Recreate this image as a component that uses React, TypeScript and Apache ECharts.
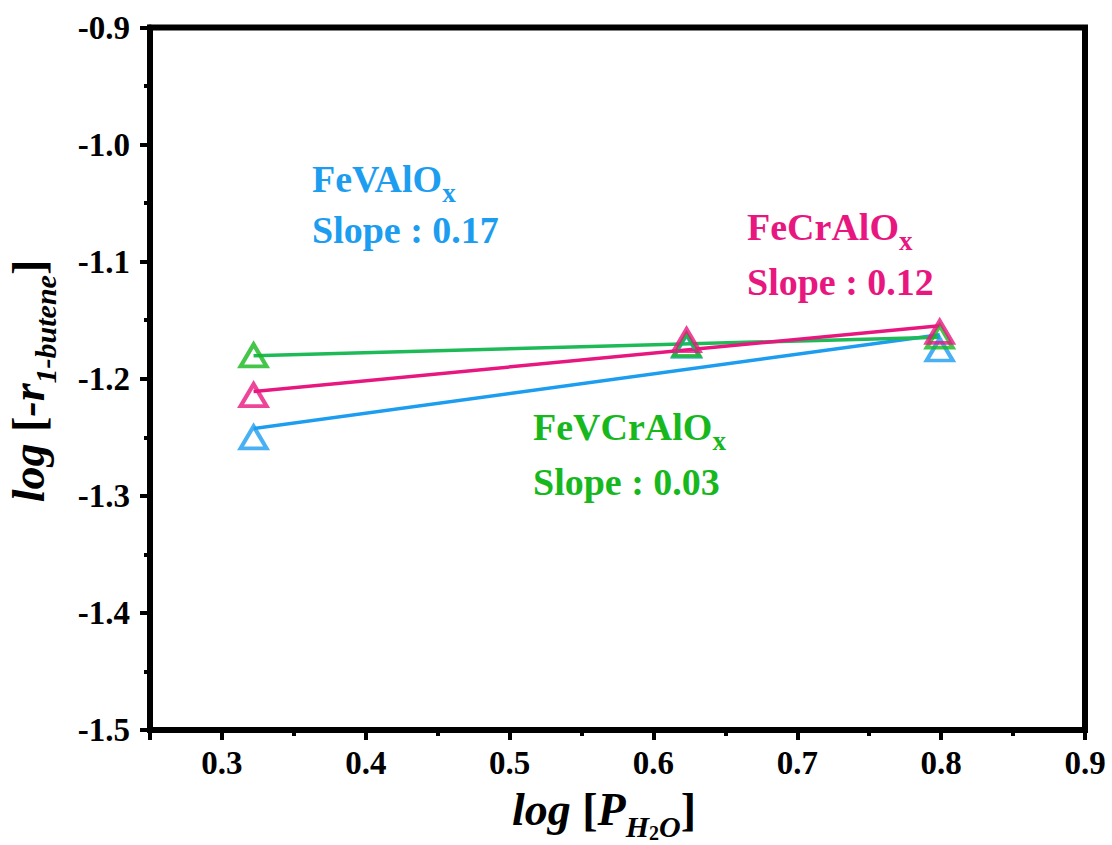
import React, { useEffect, useRef } from "react";
import * as echarts from "echarts";

// log of water partial pressure (x) and log of the 1-butene rate (y) for each catalyst
const xLogP = [0.322, 0.623, 0.799];
const feVAlOx = [-1.25, -1.172, -1.175];
const feCrAlOx = [-1.214, -1.167, -1.16];
const feVCrAlOx = [-1.18, -1.171, -1.164];

const xMin = 0.25;
const xMax = 0.9;
const yMin = -1.5;
const yMax = -0.9;
const yStep = 0.1;

const BLUE = "#1C9DF0";
const PINK = "#E8177F";
const GREEN = "#17B81E";
const GREEN_LINE = "#1EBA58";
const SERIF = "Liberation Serif";

// least-squares straight line through a series, evaluated at the first and last x
function fitLine(xs: number[], ys: number[]): number[][] {
  const n = xs.length;
  const mx = xs.reduce((a, b) => a + b, 0) / n;
  const my = ys.reduce((a, b) => a + b, 0) / n;
  let sxy = 0;
  let sxx = 0;
  for (let i = 0; i < n; i++) {
    sxy += (xs[i] - mx) * (ys[i] - my);
    sxx += (xs[i] - mx) * (xs[i] - mx);
  }
  const k = sxy / sxx;
  const b = my - k * mx;
  const x0 = xs[0];
  const x1 = xs[n - 1];
  return [
    [x0, k * x0 + b],
    [x1, k * x1 + b],
  ];
}

const pairs = (ys: number[]) => xLogP.map((x, i) => [x, ys[i]]);

// rich-text token: every token is top aligned inside its line, padTop pushes it down
function tok(fs: number, italic: boolean, padTop: number, fill: string) {
  return {
    fontFamily: SERIF,
    fontWeight: "bold",
    fontStyle: italic ? "italic" : "normal",
    fontSize: fs,
    height: fs,
    lineHeight: fs + padTop,
    padding: [padTop, 0, 0, 0],
    verticalAlign: "top",
    fill,
  };
}

function nameLabel(x: number, baseline: number, name: string, color: string) {
  return {
    type: "text",
    x,
    y: baseline - 31.8,
    z: 100,
    style: {
      text: `{m|${name}}{s|x}`,
      align: "left",
      verticalAlign: "top",
      rich: { m: tok(38, false, 0, color), s: tok(27, false, 19, color) },
    },
  };
}

function slopeLabel(x: number, baseline: number, text: string, color: string) {
  return {
    type: "text",
    x,
    y: baseline - 31.8,
    z: 100,
    style: {
      text: `{m|${text}}`,
      align: "left",
      verticalAlign: "top",
      rich: { m: tok(38, false, 0, color) },
    },
  };
}

const tickFont = {
  fontFamily: SERIF,
  fontWeight: "bold" as const,
  fontSize: 33,
  color: "#000",
};

export default function App() {
  const ref = useRef<HTMLDivElement>(null);

  useEffect(() => {
    if (!ref.current) return;
    const chart = echarts.init(ref.current, undefined, { renderer: "svg" });

    const axisCommon = {
      axisLine: { show: true, onZero: false, lineStyle: { color: "#000", width: 6 } },
      axisTick: { show: true, inside: false, length: 10, lineStyle: { color: "#000", width: 4 } },
      minorTick: { show: true, splitNumber: 2, length: 6, lineStyle: { color: "#000", width: 4 } },
      splitLine: { show: false },
      minorSplitLine: { show: false },
    };

    const lineSeries = (data: number[][], color: string) => ({
      type: "line",
      data,
      showSymbol: false,
      symbol: "none",
      lineStyle: { color, width: 3.5 },
      z: 2,
      silent: true,
    });

    const markerSeries = (data: number[][], color: string, z: number) => ({
      type: "scatter",
      data,
      symbol: "triangle",
      symbolSize: [26, 22],
      itemStyle: { color: "rgba(255,255,255,0)", borderColor: color, borderWidth: 4 },
      z,
    });

    chart.setOption({
      animation: false,
      backgroundColor: "#fff",
      grid: {
        left: 150,
        right: 27,
        top: 27.5,
        bottom: 115,
        show: true,
        borderColor: "#000",
        borderWidth: 6,
        backgroundColor: "rgba(0,0,0,0)",
      },
      xAxis: {
        type: "value",
        min: xMin,
        max: xMax,
        ...axisCommon,
        axisLabel: {
          ...tickFont,
          margin: 16,
          formatter: (v: number) =>
            Math.abs(v * 10 - Math.round(v * 10)) < 1e-6 ? v.toFixed(1) : "",
        },
      },
      yAxis: {
        type: "value",
        min: yMin,
        max: yMax,
        interval: yStep,
        ...axisCommon,
        axisLabel: {
          ...tickFont,
          margin: 20,
          formatter: (v: number) => v.toFixed(1),
        },
      },
      series: [
        lineSeries(fitLine(xLogP, feVAlOx), BLUE),
        lineSeries(fitLine(xLogP, feVCrAlOx), GREEN_LINE),
        lineSeries(fitLine(xLogP, feCrAlOx), PINK),
        markerSeries(pairs(feVAlOx), BLUE, 3),
        markerSeries(pairs(feVCrAlOx), GREEN, 4),
        markerSeries(pairs(feCrAlOx), PINK, 5),
      ],
      graphic: [
        nameLabel(312, 192, "FeVAlO", BLUE),
        slopeLabel(312, 243, "Slope : 0.17", BLUE),
        nameLabel(747, 240, "FeCrAlO", PINK),
        slopeLabel(747, 295, "Slope : 0.12", PINK),
        nameLabel(533, 440, "FeVCrAlO", GREEN),
        slopeLabel(533, 495, "Slope : 0.03", GREEN),
        {
          type: "text",
          x: 512,
          y: 786.5,
          z: 100,
          style: {
            text: "{i|log }{u|[}{i|P}{s|H}{ss|2}{s|O}{u|]}",
            align: "left",
            verticalAlign: "top",
            rich: {
              i: tok(46, true, 0, "#000"),
              u: tok(46, false, 0, "#000"),
              s: tok(30, true, 25, "#000"),
              ss: tok(20, false, 36, "#000"),
            },
          },
        },
        {
          type: "text",
          x: 5.5,
          y: 381,
          rotation: Math.PI / 2,
          z: 100,
          style: {
            text: "{i|log }{u|[}{i|-r}{s|1-butene}{u|]}",
            align: "center",
            verticalAlign: "top",
            rich: {
              i: tok(46, true, 0, "#000"),
              u: tok(46, false, 0, "#000"),
              s: tok(30, true, 25, "#000"),
            },
          },
        },
      ],
    });

    return () => chart.dispose();
  }, []);

  return (
    <div
      ref={ref}
      style={{ position: "absolute", left: 0, top: 0, width: 1112, height: 845 }}
    />
  );
}
